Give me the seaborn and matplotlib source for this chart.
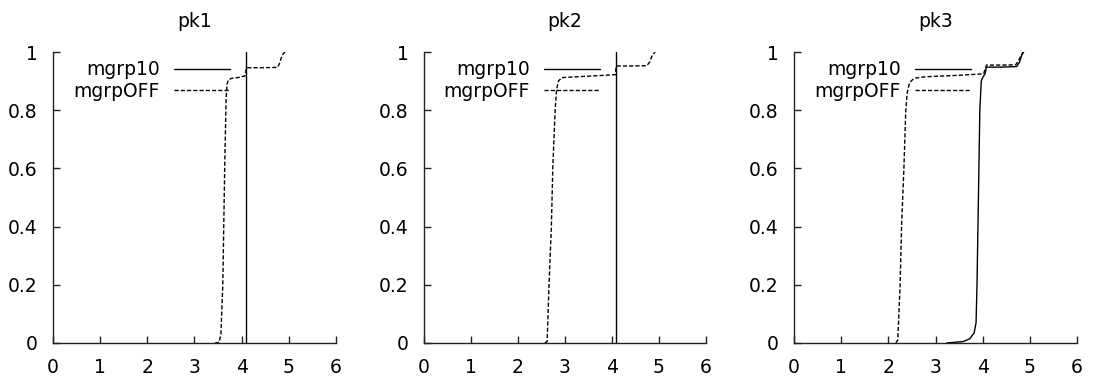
import matplotlib
matplotlib.use("Agg")
import matplotlib.pyplot as plt
import seaborn as sns
import pandas as pd

# Panel titles and series names
panels = ["pk1", "pk2", "pk3"]
series = ["mgrp10", "mgrpOFF"]

# CDF curves (x, cumulative fraction) for each panel and series
pk1_mgrp10_x = [4.10, 4.10, 4.10]
pk1_mgrp10_y = [0.0, 0.5, 1.0]
pk1_mgrpoff_x = [3.43, 3.52, 3.56, 3.60, 3.64, 3.67, 3.69, 3.72, 3.80, 3.95, 4.07, 4.10, 4.40, 4.76, 4.80, 4.86, 4.92]
pk1_mgrpoff_y = [0.0, 0.002, 0.03, 0.2, 0.6, 0.84, 0.89, 0.905, 0.91, 0.913, 0.918, 0.946, 0.946, 0.947, 0.96, 0.99, 1.0]

pk2_mgrp10_x = [4.08, 4.08, 4.08]
pk2_mgrp10_y = [0.0, 0.5, 1.0]
pk2_mgrpoff_x = [2.57, 2.62, 2.66, 2.71, 2.74, 2.79, 2.82, 2.86, 2.93, 3.50, 4.07, 4.09, 4.40, 4.74, 4.80, 4.86, 4.92]
pk2_mgrpoff_y = [0.0, 0.005, 0.2, 0.4, 0.6, 0.8, 0.87, 0.90, 0.912, 0.917, 0.922, 0.952, 0.952, 0.953, 0.965, 0.99, 1.0]

pk3_mgrp10_x = [3.24, 3.59, 3.73, 3.82, 3.86, 3.88, 3.91, 3.94, 3.97, 4.00, 4.05, 4.08, 4.40, 4.72, 4.78, 4.83, 4.87]
pk3_mgrp10_y = [0.0, 0.005, 0.015, 0.035, 0.07, 0.2, 0.5, 0.8, 0.9, 0.912, 0.925, 0.948, 0.948, 0.95, 0.965, 0.99, 1.0]
pk3_mgrpoff_x = [2.16, 2.20, 2.25, 2.28, 2.33, 2.37, 2.40, 2.45, 2.55, 2.80, 3.50, 4.02, 4.08, 4.40, 4.70, 4.76, 4.82, 4.86]
pk3_mgrpoff_y = [0.0, 0.01, 0.2, 0.4, 0.6, 0.8, 0.86, 0.895, 0.91, 0.915, 0.92, 0.925, 0.955, 0.955, 0.956, 0.97, 0.99, 1.0]

curves = {
    "pk1": {"mgrp10": (pk1_mgrp10_x, pk1_mgrp10_y), "mgrpOFF": (pk1_mgrpoff_x, pk1_mgrpoff_y)},
    "pk2": {"mgrp10": (pk2_mgrp10_x, pk2_mgrp10_y), "mgrpOFF": (pk2_mgrpoff_x, pk2_mgrpoff_y)},
    "pk3": {"mgrp10": (pk3_mgrp10_x, pk3_mgrp10_y), "mgrpOFF": (pk3_mgrpoff_x, pk3_mgrpoff_y)},
}

x_ticks = [0, 1, 2, 3, 4, 5, 6]
y_ticks = [0, 0.2, 0.4, 0.6, 0.8, 1.0]
y_tick_labels = ["0", "0.2", "0.4", "0.6", "0.8", "1"]

sns.set_theme(style="ticks")
plt.rcParams["font.family"] = ["DejaVu Sans"]
plt.rcParams["text.color"] = "black"
plt.rcParams["axes.titlecolor"] = "black"
FS = 13.5
plt.rcParams["font.size"] = FS

fig = plt.figure(figsize=(10.95, 3.81), dpi=100)

W, H = 1095.0, 381.0
axes_px = [(53, 283), (424, 282), (794, 283)]
top_px, bottom_px = 52, 343

dash_seq = {"mgrp10": "", "mgrpOFF": (3.0, 1.5)}
legend_ls = {"mgrp10": "-", "mgrpOFF": (0, (3.0, 1.5))}

for name, (left, width) in zip(panels, axes_px):
    ax = fig.add_axes([left / W, (H - bottom_px) / H, width / W, (bottom_px - top_px) / H])
    frames = []
    for s in series:
        xs, ys = curves[name][s]
        frames.append(pd.DataFrame({"x": xs, "y": ys, "series": s}))
    df = pd.concat(frames, ignore_index=True)
    sns.lineplot(data=df, x="x", y="y", hue="series", style="series",
                 palette={"mgrp10": "black", "mgrpOFF": "black"},
                 dashes=dash_seq, sort=False, estimator=None,
                 linewidth=1.0, ax=ax, legend=False)
    ax.set_xlim(0, 6)
    ax.set_ylim(0, 1)
    ax.set_xticks(x_ticks)
    ax.set_xticklabels([str(t) for t in x_ticks])
    ax.set_yticks(y_ticks)
    ax.set_yticklabels(y_tick_labels)
    ax.set_xlabel("")
    ax.set_ylabel("")
    for sp in ["top", "right"]:
        ax.spines[sp].set_visible(False)
    for sp in ["left", "bottom"]:
        ax.spines[sp].set_linewidth(1.0)
        ax.spines[sp].set_color("#222222")
    ax.tick_params(direction="in", length=5, width=1.0, colors="#222222",
                   labelcolor="black", labelsize=FS)
    ax.tick_params(axis="x", pad=11)
    ax.tick_params(axis="y", pad=11)
    ax.set_title(name, fontsize=FS, pad=18, color="black")
    # legend: label first, line sample after it
    handles = [plt.Line2D([], [], color="black", lw=1.0, linestyle=legend_ls[s]) for s in series]
    leg = ax.legend(handles, series, loc="upper right", bbox_to_anchor=(0.625, 0.972),
                    markerfirst=False, frameon=False, fontsize=FS, handlelength=3.0,
                    handletextpad=0.75, labelspacing=0.15, borderpad=0.0, borderaxespad=0.0)
    for t in leg.get_texts():
        t.set_color("black")

fig.savefig("out.png", dpi=100, facecolor="white")
